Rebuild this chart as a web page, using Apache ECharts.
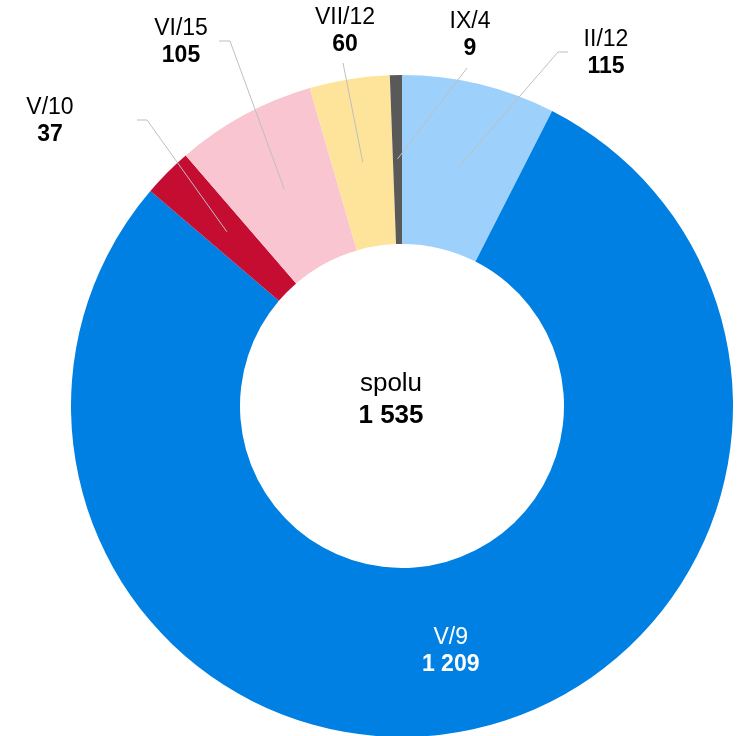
<!DOCTYPE html>
<html>
<head>
<meta charset="utf-8">
<script src="https://cdn.jsdelivr.net/npm/echarts@6/dist/echarts.min.js"></script>
<style>
  html, body { margin: 0; padding: 0; background: #fff; }
  #chart { width: 739px; height: 736px; }
</style>
</head>
<body>
<div id="chart"></div>
<script>
var categories = ['II/12', 'V/9', 'V/10', 'VI/15', 'VII/12', 'IX/4']
var values = [115, 1209, 37, 105, 60, 9]
var totalName = 'spolu'

var colors = ['#9DD1FC', '#0080E2', '#C40D31', '#F9C5D0', '#FEE39B', '#595959']
var center = [402, 406]
var outerR = 331
var innerR = 162
var lineR = 247 // leader lines start in the middle of the ring
var font = '"Liberation Sans", Arial, sans-serif'

// where each outside label sits and where its leader line ends
var labelSpots = {
  'II/12': { x: 606, y: 53, tail: [[558, 52], [568, 52]] },
  'V/10': { x: 50, y: 121, tail: [[147, 120], [137, 120]] },
  'VI/15': { x: 181, y: 42, tail: [[230, 41], [219, 41]] },
  'VII/12': { x: 345, y: 31, tail: [[343, 63]] },
  'IX/4': { x: 470, y: 35, tail: [[467, 68]] }
}

function fmt(n) {
  return String(n).replace(/\B(?=(\d{3})+(?!\d))/g, ' ')
}

var total = values.reduce(function(a, b) { return a + b }, 0)

var labelText = {
  fontFamily: font,
  formatter: function(p) {
    return '{n|' + p.name + '}\n{v|' + fmt(p.value) + '}'
  },
  rich: {
    n: { fontSize: 23, lineHeight: 27, fontFamily: font },
    v: { fontSize: 23, lineHeight: 27, fontWeight: 'bold', fontFamily: font }
  }
}

// coloured ring, only the big slice is labelled inside
var ringData = categories.map(function(name, i) {
  return {
    name: name,
    value: values[i],
    itemStyle: { color: colors[i] },
    label: { show: !labelSpots[name] }
  }
})

// invisible copy on top, so the leader lines are drawn over the ring
var guideData = categories.map(function(name, i) {
  var show = !!labelSpots[name]
  return {
    name: name,
    value: values[i],
    label: { show: show },
    labelLine: { show: show }
  }
})

var chart = echarts.init(document.getElementById('chart'))
chart.setOption({
  animation: false,
  series: [
    {
      type: 'pie',
      z: 2,
      center: center,
      radius: [innerR, outerR],
      startAngle: 90,
      clockwise: true,
      avoidLabelOverlap: false,
      silent: true,
      emphasis: { disabled: true },
      data: ringData,
      label: Object.assign({ position: 'inside', color: '#fff' }, labelText),
      labelLine: { show: false }
    },
    {
      type: 'pie',
      z: 3,
      center: center,
      radius: [innerR, lineR],
      startAngle: 90,
      clockwise: true,
      avoidLabelOverlap: false,
      silent: true,
      emphasis: { disabled: true },
      itemStyle: { color: 'rgba(0,0,0,0)' },
      data: guideData,
      label: Object.assign({ position: 'outside', color: '#000' }, labelText),
      labelLine: {
        smooth: false,
        lineStyle: { color: '#BFBFBF', width: 1 }
      },
      labelLayout: function(params) {
        var spot = labelSpots[categories[params.dataIndex]]
        if (!spot) {
          return {}
        }
        var out = { x: spot.x, y: spot.y, align: 'center', verticalAlign: 'middle' }
        var p = params.labelLinePoints && params.labelLinePoints[0]
        if (p) {
          out.labelLinePoints = [p].concat(spot.tail)
        }
        return out
      }
    }
  ],
  graphic: [
    {
      type: 'text',
      x: 391,
      y: 400,
      silent: true,
      style: {
        text: '{n|' + totalName + '}\n{v|' + fmt(total) + '}',
        align: 'center',
        verticalAlign: 'middle',
        fill: '#000',
        rich: {
          n: { fontSize: 26, lineHeight: 32, fontFamily: font },
          v: { fontSize: 26, lineHeight: 32, fontWeight: 'bold', fontFamily: font }
        }
      }
    }
  ]
})
</script>
</body>
</html>
